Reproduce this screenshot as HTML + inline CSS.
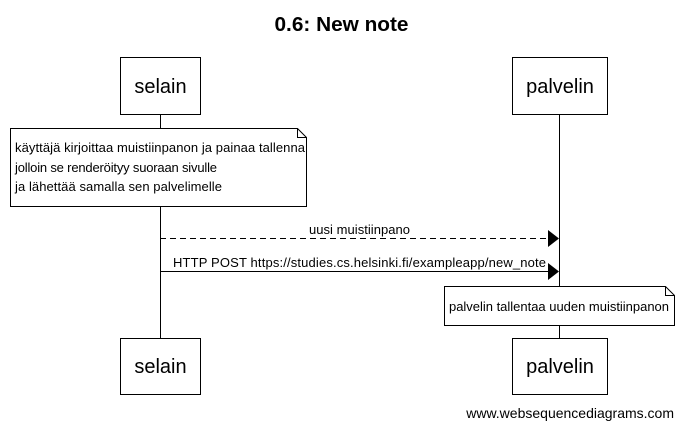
<!DOCTYPE html>
<html><head><meta charset="utf-8"><style>
body{margin:0;background:#fff;}
svg{display:block;font-family:"Liberation Sans",sans-serif;}
</style></head><body>
<svg width="683" height="428" viewBox="0 0 683 428" xmlns="http://www.w3.org/2000/svg">
<text x="341.5" y="31" text-anchor="middle" font-size="20" font-weight="bold" textLength="134" lengthAdjust="spacingAndGlyphs">0.6: New note</text>
<g stroke="#000" fill="none" stroke-width="1">
<line x1="160.5" y1="114" x2="160.5" y2="338"/>
<line x1="559.5" y1="114" x2="559.5" y2="338"/>
<rect x="120.5" y="57.5" width="80" height="57" fill="#fff"/>
<rect x="512.5" y="57.5" width="95" height="57" fill="#fff"/>
<rect x="120.5" y="338.5" width="80" height="56" fill="#fff"/>
<rect x="512.5" y="338.5" width="95" height="56" fill="#fff"/>
<path d="M10.5 128.5 H297.5 L306.5 137.5 V206.5 H10.5 Z" fill="#fff"/>
<path d="M297.5 128.5 V137.5 H306.5"/>
<path d="M444.5 286.5 H665.5 L674.5 295.5 V325.5 H444.5 Z" fill="#fff"/>
<path d="M665.5 286.5 V295.5 H674.5"/>
<line x1="160" y1="238.5" x2="548" y2="238.5" stroke-dasharray="6,4"/>
<line x1="160" y1="271.5" x2="548" y2="271.5"/>
</g>
<polygon points="548,230 559,238.5 548,247" fill="#000"/>
<polygon points="548,263 559,271.5 548,280" fill="#000"/>
<g font-size="20" text-anchor="middle">
<text x="160.5" y="93">selain</text>
<text x="560" y="93">palvelin</text>
<text x="160.5" y="373">selain</text>
<text x="560" y="373">palvelin</text>
</g>
<g font-size="13" lengthAdjust="spacingAndGlyphs">
<text x="15" y="152" textLength="290">käyttäjä kirjoittaa muistiinpanon ja painaa tallenna</text>
<text x="15" y="172" textLength="202">jolloin se renderöityy suoraan sivulle</text>
<text x="15" y="191" textLength="207">ja lähettää samalla sen palvelimelle</text>
<text x="309" y="234" textLength="101">uusi muistiinpano</text>
<text x="173" y="267" textLength="373">HTTP POST https://studies.cs.helsinki.fi/exampleapp/new_note</text>
<text x="449" y="311" textLength="220">palvelin tallentaa uuden muistiinpanon</text>
</g>
<text x="674" y="418" font-size="14" text-anchor="end">www.websequencediagrams.com</text>
</svg>
</body></html>
